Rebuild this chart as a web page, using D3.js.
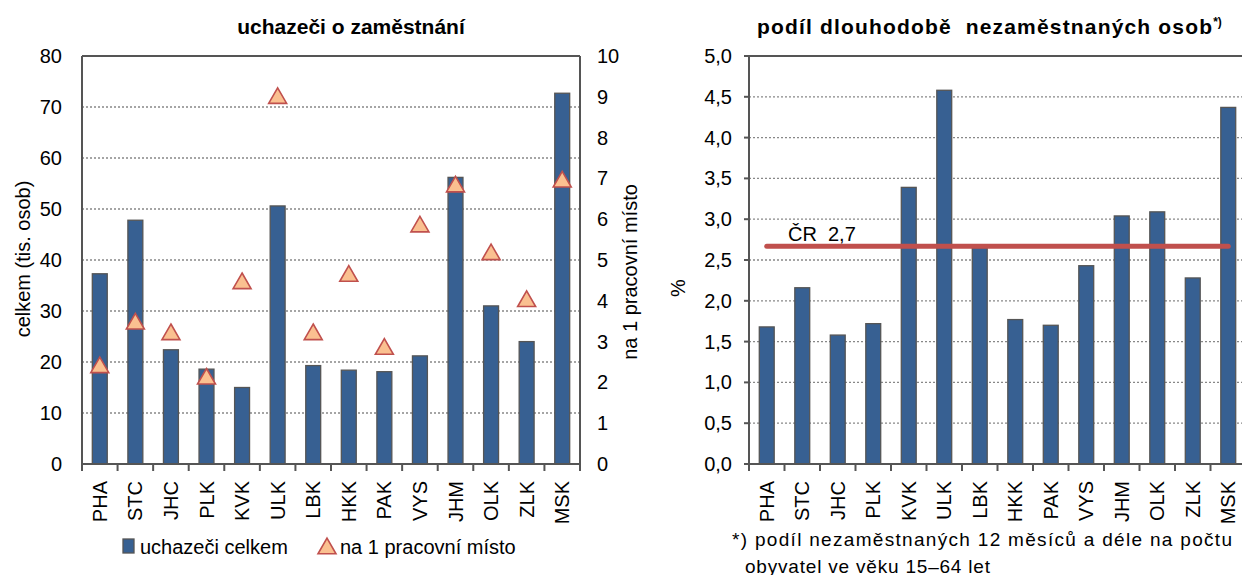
<!DOCTYPE html>
<html>
<head>
<meta charset="utf-8">
<script src="https://cdn.jsdelivr.net/npm/d3@7"></script>
<style>
  body { margin: 0; background: #fff; }
  svg { display: block; font-family: "Liberation Sans", Arial, sans-serif; }
</style>
</head>
<body>
<div id="chart"></div>
<script>
var regions = ["PHA","STC","JHC","PLK","KVK","ULK","LBK","HKK","PAK","VYS","JHM","OLK","ZLK","MSK"]
// uchazeci celkem (tis. osob)
var uchazeci = [37.3, 47.8, 22.4, 18.6, 15.0, 50.6, 19.3, 18.4, 18.1, 21.2, 56.2, 31.0, 24.0, 72.7]
// uchazeci na 1 pracovni misto
var naMisto = [2.43, 3.50, 3.24, 2.15, 4.49, 9.03, 3.24, 4.67, 2.88, 5.88, 6.86, 5.20, 4.05, 6.98]
// podil dlouhodobe nezamestnanych (%)
var podil = [1.68, 2.16, 1.58, 1.72, 3.39, 4.58, 2.65, 1.77, 1.70, 2.43, 3.04, 3.09, 2.28, 4.37]
var crValue = 2.67
var leftTicks = [0,10,20,30,40,50,60,70,80]
var rightTicks = [0,1,2,3,4,5,6,7,8,9,10]
var pctTicks = [0,0.5,1,1.5,2,2.5,3,3.5,4,4.5,5]

var W = 1242, H = 575
var barFill = '#376092', barStroke = '#555', axisCol = '#555'
var triFill = '#fac090', triStroke = '#c0504d'
var fmt = d3.format('.1f')
var fs = 20

var svg = d3.select('#chart').append('svg').attr('width', W).attr('height', H)

var plotTop = 56, plotBottom = 464

function triangle(g, x, y) {
  // triangle marker centred on its bounding box
  var size = 140
  var a = Math.sqrt(size / (3 * Math.sqrt(3)))
  g.append('path')
    .attr('d', d3.symbol(d3.symbolTriangle, size)())
    .attr('transform', `translate(${x},${y + a/2})`)
    .attr('fill', triFill).attr('stroke', triStroke).attr('stroke-width', 1.6)
}

function frame(g, x, yScale, ticks, ytick) {
  var r = x.range()
  // dotted grid
  g.selectAll('.grid').data(ticks.slice(1)).enter().append('line')
    .attr('x1', r[0]).attr('x2', r[1])
    .attr('y1', d => yScale(d)).attr('y2', d => yScale(d))
    .attr('stroke', '#888').attr('stroke-width', 1.3).attr('stroke-dasharray', '2,2')
  // top border
  g.append('line').attr('x1', r[0]).attr('x2', r[1]).attr('y1', plotTop).attr('y2', plotTop)
    .attr('stroke', axisCol).attr('stroke-width', 2)
  // y axis
  g.append('line').attr('x1', r[0]).attr('x2', r[0]).attr('y1', plotTop).attr('y2', plotBottom)
    .attr('stroke', axisCol).attr('stroke-width', 2)
  if (ytick) {
    g.selectAll('.yt').data(ticks).enter().append('line')
      .attr('x1', r[0] - 5).attr('x2', r[0]).attr('y1', d => yScale(d)).attr('y2', d => yScale(d))
      .attr('stroke', axisCol).attr('stroke-width', 2)
  }
}

function xAxis(g, x) {
  var r = x.range(), step = x.step()
  var b = d3.range(regions.length + 1).map(i => r[0] + i * step)
  g.selectAll('.xt').data(b).enter().append('line')
    .attr('x1', d => d).attr('x2', d => d).attr('y1', plotBottom).attr('y2', plotBottom + 7)
    .attr('stroke', axisCol).attr('stroke-width', 2)
  g.append('line').attr('x1', r[0] - 1).attr('x2', r[1]).attr('y1', plotBottom).attr('y2', plotBottom)
    .attr('stroke', axisCol).attr('stroke-width', 2)
  g.selectAll('.xl').data(regions).enter().append('text')
    .attr('transform', d => `translate(${x(d) + x.bandwidth()/2 + 7},${plotBottom + 17}) rotate(-90)`)
    .attr('text-anchor', 'end').attr('font-size', fs).text(d => d)
}

function bars(g, x, y, vals) {
  g.selectAll('.bar').data(vals).enter().append('rect')
    .attr('x', (d, i) => x(regions[i])).attr('width', x.bandwidth())
    .attr('y', d => y(d)).attr('height', d => plotBottom - y(d))
    .attr('fill', barFill).attr('stroke', barStroke).attr('stroke-width', 1.3)
}

// ---------- left chart ----------
var gl = svg.append('g')
var xL = d3.scaleBand().domain(regions).range([82, 580]).paddingInner(0.58).paddingOuter(0.29)
var yL = d3.scaleLinear().domain([0, 80]).range([plotBottom, plotTop])
var yR = d3.scaleLinear().domain([0, 10]).range([plotBottom, plotTop])

frame(gl, xL, yL, leftTicks, false)
gl.append('line').attr('x1', 580).attr('x2', 580).attr('y1', plotTop).attr('y2', plotBottom + 7)
  .attr('stroke', axisCol).attr('stroke-width', 2)
bars(gl, xL, yL, uchazeci)
xAxis(gl, xL)
naMisto.forEach((v, i) => triangle(gl, xL(regions[i]) + xL.bandwidth()/2, yR(v)))

gl.selectAll('.yl').data(leftTicks).enter().append('text')
  .attr('x', 62).attr('y', d => yL(d)).attr('dy', '0.35em')
  .attr('text-anchor', 'end').attr('font-size', fs).text(d => d)
gl.selectAll('.yr').data(rightTicks).enter().append('text')
  .attr('x', 597).attr('y', d => yR(d)).attr('dy', '0.35em')
  .attr('font-size', fs).text(d => d)

gl.append('text').attr('transform', 'translate(30,259) rotate(-90)')
  .attr('text-anchor', 'middle').attr('font-size', fs).text('celkem (tis. osob)')
gl.append('text').attr('transform', 'translate(637,272) rotate(-90)')
  .attr('text-anchor', 'middle').attr('font-size', fs).text('na 1 pracovní místo')
gl.append('text').attr('x', 351).attr('y', 34).attr('text-anchor', 'middle')
  .attr('font-size', 21).attr('font-weight', 'bold').text('uchazeči o zaměstnání')

// legend
gl.append('rect').attr('x', 123).attr('y', 539).attr('width', 11).attr('height', 14)
  .attr('fill', barFill).attr('stroke', barStroke).attr('stroke-width', 1.3)
gl.append('text').attr('x', 140).attr('y', 554).attr('font-size', fs).text('uchazeči celkem')
triangle(gl, 327, 546)
gl.append('text').attr('x', 340).attr('y', 554).attr('font-size', fs).text('na 1 pracovní místo')

// ---------- right chart ----------
var gr = svg.append('g')
var xP = d3.scaleBand().domain(regions).range([749, 1246]).paddingInner(0.58).paddingOuter(0.29)
var yP = d3.scaleLinear().domain([0, 5]).range([plotBottom, plotTop])

frame(gr, xP, yP, pctTicks, true)
bars(gr, xP, yP, podil)
xAxis(gr, xP)

gr.selectAll('.yl').data(pctTicks).enter().append('text')
  .attr('x', 732).attr('y', d => yP(d)).attr('dy', '0.35em')
  .attr('text-anchor', 'end').attr('font-size', fs).text(d => fmt(d).replace('.', ','))
gr.append('text').attr('transform', 'translate(685,288) rotate(-90)')
  .attr('text-anchor', 'middle').attr('font-size', fs).text('%')

// CR average line
var cx0 = xP(regions[0]) + xP.bandwidth()/2, cx1 = xP(regions[regions.length-1]) + xP.bandwidth()/2
gr.append('line').attr('x1', cx0).attr('x2', cx1).attr('y1', yP(crValue)).attr('y2', yP(crValue))
  .attr('stroke', '#c0504d').attr('stroke-width', 5).attr('stroke-linecap', 'round')
gr.append('text').attr('x', 788).attr('y', 241).attr('font-size', fs)
  .style('white-space', 'pre').text('ČR  2,7')

var tr = gr.append('text').attr('x', 757).attr('y', 34)
  .attr('font-size', 21).attr('font-weight', 'bold').style('white-space', 'pre')
tr.append('tspan').attr('textLength', 455).attr('lengthAdjust', 'spacing')
  .text('podíl dlouhodobě  nezaměstnaných osob')
tr.append('tspan').attr('font-size', 12).attr('dy', -8).text('*)')

gr.append('text').attr('x', 732).attr('y', 546).attr('font-size', 19)
  .attr('textLength', 500).attr('lengthAdjust', 'spacing')
  .text('*) podíl nezaměstnaných 12 měsíců a déle na počtu')
gr.append('text').attr('x', 745).attr('y', 573).attr('font-size', 19)
  .attr('textLength', 245).attr('lengthAdjust', 'spacing')
  .text('obyvatel ve věku 15–64 let')
</script>
</body>
</html>
